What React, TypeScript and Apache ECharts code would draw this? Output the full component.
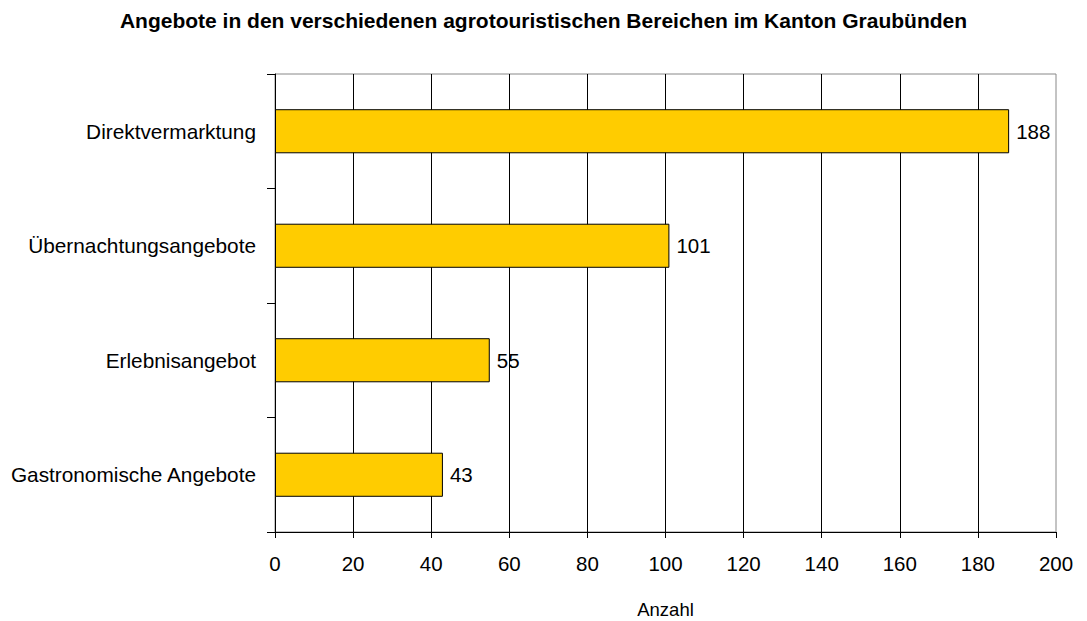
import React, { useEffect, useRef } from "react";
import * as echarts from "echarts";

const categories = [
  "Gastronomische Angebote",
  "Erlebnisangebot",
  "Übernachtungsangebote",
  "Direktvermarktung",
];
const values = [43, 55, 101, 188];
const titleText =
  "Angebote in den verschiedenen agrotouristischen Bereichen im Kanton Graubünden";
const xAxisName = "Anzahl";

export default function App() {
  const ref = useRef<HTMLDivElement>(null);
  useEffect(() => {
    if (!ref.current) return;
    const chart = echarts.init(ref.current, null, { renderer: "svg" });
    const font = "Liberation Sans, Arial, sans-serif";
    chart.setOption({
      animation: false,
      backgroundColor: "#fff",
      title: {
        text: titleText,
        left: "center",
        top: 5,
        textStyle: { fontFamily: font, fontSize: 21, fontWeight: "bold", color: "#000" },
      },
      grid: {
        left: 275,
        right: 31,
        top: 74,
        bottom: 89,
        show: true,
        borderColor: "#888",
        borderWidth: 1,
        outerBoundsMode: "none",
        containLabel: false,
      },
      xAxis: {
        type: "value",
        min: 0,
        max: 200,
        interval: 20,
        name: xAxisName,
        nameLocation: "middle",
        nameGap: 68,
        nameTextStyle: { fontFamily: font, fontSize: 18.5, color: "#000" },
        axisLine: { show: true, lineStyle: { color: "#000", width: 1 } },
        axisTick: { show: true, length: 6, lineStyle: { color: "#000" } },
        axisLabel: { fontFamily: font, fontSize: 20.5, color: "#000", margin: 21 },
        splitLine: {
          show: true,
          showMinLine: false,
          showMaxLine: false,
          lineStyle: { color: "#000", width: 1 },
        },
      },
      yAxis: {
        type: "category",
        data: categories,
        axisLine: { show: true, lineStyle: { color: "#000", width: 1 } },
        axisTick: { show: true, length: 8, lineStyle: { color: "#000" } },
        axisLabel: { fontFamily: font, fontSize: 20.8, color: "#000", margin: 19 },
        splitLine: { show: false },
      },
      series: [
        {
          type: "bar",
          data: values,
          barWidth: "38.5%",
          itemStyle: { color: "#FFCC00", borderColor: "#000", borderWidth: 1 },
          label: {
            show: true,
            position: "right",
            distance: 7,
            fontFamily: font,
            fontSize: 20.5,
            color: "#000",
          },
        },
      ],
    });
    return () => chart.dispose();
  }, []);
  return <div ref={ref} style={{ width: 1087, height: 621, position: "absolute", left: 0, top: 0 }} />;
}
